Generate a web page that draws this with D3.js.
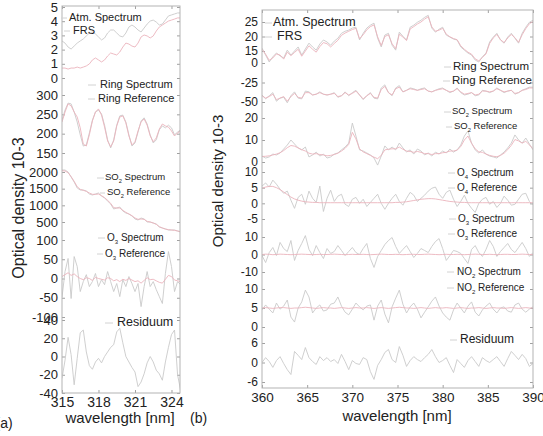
<!DOCTYPE html>
<html>
<head>
<meta charset="utf-8">
<script src="https://cdn.jsdelivr.net/npm/d3@7"></script>
<style>
  body { margin: 0; background: #fff; }
  svg { display: block; font-family: "Liberation Sans", Arial, sans-serif; }
  .frame { fill: none; stroke: #b3b3b3; stroke-width: 1; }
  .spec { fill: none; stroke: #c9c9c9; stroke-width: 0.9; }
  .ref { fill: none; stroke: #ebb3bc; stroke-width: 0.9; }
  .leg-line { stroke: #d2d2d2; stroke-width: 1; }
</style>
</head>
<body>
<svg id="chart" width="543" height="436"></svg>
<script>
// ── DATA: panel (a), 315 nm onwards every 0.25 nm ─────────────────────────
const wlStartA = 315, wlStepA = 0.25;
const atmA = [2.61,2.46,2.18,2.04,2.25,2.46,2.61,2.75,2.96,3.17,3.24,3.10,2.89,2.68,2.82,3.17,3.38,3.38,3.17,2.96,2.89,3.17,3.59,3.73,3.59,3.38,3.24,3.52,3.80,4.01,4.08,3.94,3.73,3.80,4.08,4.37,4.44,4.51,4.58,4.58];
const frsA = [0.70,0.70,0.63,0.70,0.70,0.77,0.70,0.77,0.85,0.99,1.27,1.41,1.27,1.13,1.27,1.55,1.76,1.69,1.62,1.83,2.18,2.46,2.39,2.25,2.18,2.46,2.89,3.03,2.96,2.82,2.96,3.31,3.59,3.73,3.87,4.01,4.08,4.15,4.23,4.23];
const ringSpecA = [235,261,279,277,256,230,197,168,171,202,235,256,261,251,222,184,163,184,222,246,248,230,197,168,176,204,233,241,225,197,176,184,210,220,215,222,215,197,204,210];
const ringRefA = [230,256,277,272,256,243,215,173,168,197,233,256,264,248,217,181,166,181,220,243,246,228,194,171,179,207,230,238,222,194,179,189,212,225,220,217,207,194,202,207];
const so2SpecA = [2060,2060,2000,1850,1700,1520,1460,1460,1430,1340,1310,1340,1370,1280,1220,1130,1040,890,920,950,830,770,740,680,590,560,620,590,500,500,470,440,350,320,290,260,260,260,230,200];
const so2RefA = [2040,2030,1980,1860,1720,1560,1480,1450,1420,1370,1330,1330,1340,1290,1230,1150,1060,930,920,920,850,790,740,690,620,580,590,580,520,500,470,430,360,320,290,270,260,250,230,210];
const o3SpecA = [-49,18,52,-52,57,31,-34,-8,10,-21,-8,13,-21,-3,-16,18,-8,-34,-13,-47,-3,-21,5,-13,-34,-13,-73,-21,18,-21,-8,-29,-47,-65,13,70,31,-34,-8,-16];
const o3RefA = [5,10,15,8,12,5,0,-3,2,0,-5,3,0,-2,-4,2,0,-6,-3,-8,-2,-5,0,-4,-8,-6,-12,-5,2,-3,-2,-6,-10,-12,-2,8,5,-4,-6,-8];
const residA = [-24,-4,21,2,-31,-2,26,29,5,-10,-14,-6,-2,-7,0,5,10,13,27,31,15,0,-6,-12,-17,-33,-28,-19,-7,0,-6,-15,-19,-26,-6,10,24,29,-20,-37];

// ── DATA: panel (b), 360 nm onwards every 0.4 nm ──────────────────────────
const wlStartB = 360, wlStepB = 0.4;
const atmB = [16.0,13.6,11.2,13.0,14.3,13.3,12.6,15.3,13.6,15.0,16.4,13.6,15.7,17.7,16.4,15.3,17.4,18.8,18.1,17.0,18.4,19.4,21.1,21.8,22.2,22.9,23.2,18.8,21.1,22.9,23.9,24.6,19.4,16.4,20.5,21.1,17.0,15.3,21.5,20.1,18.8,23.2,23.9,24.9,25.6,26.6,27.3,22.9,21.5,22.5,23.2,20.5,19.8,19.1,18.8,16.4,15.3,14.3,13.6,11.9,11.2,13.0,14.3,18.1,19.8,21.1,18.8,17.7,19.8,21.1,19.4,17.7,21.1,23.2,24.9,25.6];
const frsB = [15.6,13.9,11.8,12.6,14.0,13.6,12.2,14.6,13.4,14.5,15.6,13.2,15.0,16.8,15.6,14.6,16.5,17.9,17.5,16.4,17.6,18.7,20.4,21.2,21.8,22.4,22.8,19.2,20.6,22.3,23.4,24.0,19.9,16.9,20.0,20.6,17.5,15.8,20.8,19.8,18.6,22.6,23.4,24.3,25.0,26.0,26.8,23.3,21.8,22.2,22.8,20.8,19.9,19.3,18.9,16.8,15.6,14.6,13.9,12.3,11.6,12.8,14.0,17.6,19.5,20.7,18.9,17.9,19.5,20.7,19.6,18.0,20.6,22.7,24.4,25.2];
const ringSpecB = [-41,-46,-42,-38,-49,-45,-44,-51,-42,-37,-45,-46,-36,-37,-41,-40,-37,-40,-41,-40,-38,-44,-42,-37,-42,-38,-35,-41,-47,-42,-38,-45,-46,-32,-28,-38,-42,-32,-29,-37,-35,-32,-33,-35,-33,-32,-36,-37,-35,-33,-32,-35,-38,-36,-32,-38,-41,-40,-38,-42,-41,-35,-36,-38,-36,-32,-35,-38,-36,-35,-40,-38,-35,-33,-31,-31];
const ringRefB = [-42,-45,-43,-40,-47,-45,-43,-49,-43,-39,-44,-45,-38,-38,-41,-40,-38,-40,-41,-40,-39,-43,-42,-38,-41,-39,-36,-41,-46,-42,-39,-44,-45,-34,-30,-38,-41,-33,-31,-37,-35,-33,-34,-35,-34,-33,-36,-37,-35,-34,-33,-35,-37,-36,-33,-37,-40,-39,-38,-41,-40,-36,-36,-37,-36,-33,-35,-37,-36,-35,-39,-38,-35,-34,-32,-32];
const so2SpecB = [2.7,1.8,2.3,3.6,3.2,4.1,5.9,7.7,10.0,8.2,6.4,5.5,6.8,2.3,3.2,4.5,2.7,3.6,1.8,2.3,3.6,4.1,5.5,6.8,8.6,17.7,11.8,5.5,5.0,4.1,3.2,1.8,-1.4,2.7,7.3,5.5,6.8,5.5,8.6,6.4,4.5,5.5,3.6,5.9,5.0,3.2,4.1,2.7,4.5,3.6,5.0,4.1,5.9,4.5,5.5,7.7,11.8,14.1,8.6,5.5,4.1,5.5,3.6,2.7,2.3,1.8,3.2,4.5,6.4,8.6,12.3,10.0,8.6,10.9,8.2,5.5];
const so2RefB = [2.5,2.6,2.8,3.2,3.6,4.2,5.2,6.5,7.5,7.2,6.4,5.6,5.0,4.0,3.6,3.8,3.4,3.2,2.8,3.0,3.4,4.0,5.0,6.2,8.0,13.5,10.5,6.0,4.6,3.8,3.0,2.2,1.5,3.0,5.5,5.8,6.0,6.0,6.8,5.8,5.0,4.8,4.4,4.8,4.4,3.8,3.8,3.4,3.8,3.8,4.2,4.4,5.0,5.0,5.4,7.0,10.0,11.8,8.5,6.0,4.6,4.4,3.6,3.0,2.6,2.4,3.0,4.0,5.6,7.6,10.2,9.6,8.6,9.4,7.8,6.0];
const o4SpecB = [5.5,6.5,5.2,7.4,6.1,4.5,3.2,3.9,1.0,-1.6,1.9,2.9,-0.3,3.9,1.6,0.3,5.5,-2.6,1.6,4.2,0.6,2.3,2.9,-0.3,-1.0,1.3,1.9,0,1.3,-1.0,0.3,1.6,2.9,0,-1.9,0,1.6,2.9,0.6,-0.6,1.6,3.5,2.6,0.6,1.6,2.6,3.9,4.8,5.2,2.9,1.6,3.5,4.2,1.3,-1.0,0.6,2.6,0,-1.6,-2.9,0,1.3,1.9,-0.3,0.6,-1.3,0,2.3,1.0,-0.6,-0.3,1.3,2.9,3.2,0.6,-0.6];
const o4RefB = [4.8,5.2,5.4,5.4,5.0,4.4,3.6,2.8,2.0,1.4,1.0,0.7,0.5,0.4,0.3,0.3,0.2,0.2,0.2,0.2,0.2,0.2,0.2,0.2,0.2,0.2,0.2,0.2,0.2,0.2,0.2,0.2,0.2,0.2,0.2,0.2,0.2,0.3,0.3,0.4,0.5,0.7,0.9,1.1,1.3,1.4,1.5,1.5,1.4,1.2,1.0,0.8,0.6,0.5,0.4,0.3,0.3,0.2,0.2,0.2,0.2,0.2,0.2,0.2,0.2,0.2,0.2,0.2,0.2,0.2,0.2,0.2,0.2,0.2,0.2,0.2];
const o3SpecB = [-0.6,-4.6,1.1,4.0,-0.6,6.9,3.4,1.7,8.0,-3.4,2.3,6.3,10.8,2.9,-0.6,5.1,1.1,-2.3,3.4,0.6,1.7,5.1,2.3,-0.6,1.7,4.0,1.1,0,3.4,6.3,-2.3,-7.4,-1.1,2.3,5.7,8.0,9.7,4.6,0.6,2.9,5.1,1.7,-1.7,0.6,3.4,2.3,1.1,4.6,7.4,9.1,3.4,-3.4,-0.6,2.3,1.7,0.6,-2.3,-5.1,2.9,5.1,1.1,-1.1,2.9,8.0,4.6,-1.1,1.7,4.0,6.3,2.9,1.1,4.0,6.9,3.4,-1.1,1.1];
const o3RefB = [0,0.2,0.1,-0.1,0,0.2,0.1,0,-0.1,0,0.1,0.2,0.1,0,-0.1,0,0.1,0,0,0.1,0.2,0.1,0,-0.1,0,0.1,0,0,0.1,0,-0.1,0,0.1,0.2,0.1,0,0,0.1,0,-0.1,0,0.1,0.1,0,0,0.1,0.2,0.1,0,-0.1,0,0.1,0,0,0.1,0,-0.1,0,0.1,0.2,0.1,0,0,0.1,0,-0.1,0,0.1,0.1,0,0,0.1,0.2,0.1,0,0];
const no2SpecB = [4.5,5.8,4.7,3.7,6.3,4.7,5.5,7.1,2.6,1.3,5.0,6.6,9.7,7.9,3.7,5.0,5.8,4.2,4.5,6.0,6.3,7.9,5.5,3.9,3.2,4.7,6.3,5.3,4.5,5.5,5.8,1.8,5.5,7.1,3.4,1.1,5.3,7.6,9.7,6.0,3.7,5.3,6.3,4.7,2.4,3.9,5.3,6.8,7.9,5.5,3.7,2.6,1.8,4.5,6.3,5.0,3.7,5.5,6.6,3.9,2.9,4.5,5.5,6.3,4.7,3.7,5.0,5.3,4.2,3.9,5.8,6.3,4.7,3.9,4.7,5.3];
const no2RefB = [5.0,5.1,5.0,4.9,5.0,5.1,5.1,5.0,4.9,5.0,5.0,5.1,5.2,5.1,5.0,4.9,5.0,5.1,5.0,5.0,4.9,5.0,5.1,5.0,4.9,5.0,5.1,5.0,5.0,5.1,5.0,4.9,5.0,5.1,5.0,4.9,5.0,5.1,5.2,5.1,5.0,5.0,4.9,5.0,5.1,5.0,4.9,5.0,5.1,5.0,5.0,5.1,5.0,4.9,5.0,5.1,5.0,4.9,5.0,5.0,5.1,5.0,4.9,5.0,5.1,5.0,5.0,4.9,5.0,5.1,5.0,4.9,5.0,5.1,5.0,5.0];
const residB = [0,1.5,0.3,-1.5,0.6,1.8,-0.3,-2.2,-3.7,3.4,2.2,0.9,4.6,1.5,0.3,-0.6,1.8,0.6,1.5,0.3,0.9,-0.3,2.5,0.3,-2.2,0.6,-0.3,-0.6,1.5,0.9,-2.8,-5.2,-0.9,0.9,3.1,4.0,0.9,0,4.9,2.2,-1.2,0.6,1.8,0.9,0.3,1.5,2.5,4.0,1.8,0,0.6,1.5,-0.9,-3.1,0.9,-0.3,-1.5,0.6,1.8,0.3,-1.2,1.5,0.6,0,0.9,1.8,0.3,-1.2,1.2,3.4,2.2,0.9,2.5,1.2,-1.2,-0.3];

// ── TICKS ──────────────────────────────────────────────────────────────────
const xTicksA = [315, 318, 321, 324];
const xTicksB = [360, 365, 370, 375, 380, 385, 390];
const yTicksA = [[0,1,2,3,4,5], [150,200,250,300], [500,1000,1500,2000], [-100,-50,0,50,100], [-40,-20,0,20,40]];
const yTicksB = [[15,20,25], [-50,-25,0], [0,10,20], [-5,0,5,10], [-10,0,10], [0,5,10], [-6,0,6]];

// ── LAYOUT ─────────────────────────────────────────────────────────────────
const panelA = {
  name: 'a', left: 62, right: 180, top: 6, bottom: 393,
  x0: wlStartA, x1: 324.7, step: wlStepA, xTicks: xTicksA,
  yFont: 13, xFont: 14, xPad: 4,
  bands: [
    { ticks: yTicksA[0], range: [78, 7],    series: [[atmA, 'spec'], [frsA, 'ref']] },
    { ticks: yTicksA[1], range: [153, 95],  series: [[ringSpecA, 'spec'], [ringRefA, 'ref']] },
    { ticks: yTicksA[2], range: [222, 172], series: [[so2SpecA, 'spec'], [so2RefA, 'ref']] },
    { ticks: yTicksA[3], range: [317, 240], series: [[o3SpecA, 'spec'], [o3RefA, 'ref']] },
    { ticks: yTicksA[4], range: [393, 320], series: [[residA, 'spec']] },
  ],
  legend: [
    { parts: ['Atm. Spectrum'], x: 69, y: 17, fs: 11, lx: [61, 67] },
    { parts: ['FRS'], x: 73, y: 30, fs: 11, lx: [64, 70] },
    { parts: ['Ring Spectrum'], x: 100, y: 84, fs: 11, lx: [88, 96] },
    { parts: ['Ring Reference'], x: 98, y: 98, fs: 11, lx: [88, 95] },
    { parts: ['SO', '2', ' Spectrum'], x: 105, y: 177, fs: 9.5, lx: [97, 104] },
    { parts: ['SO', '2', ' Reference'], x: 107, y: 192, fs: 9.5, lx: [100, 105] },
    { parts: ['O', '3', ' Spectrum'], x: 107, y: 237, fs: 10, lx: [98, 105] },
    { parts: ['O', '3', ' Reference'], x: 105, y: 253, fs: 10, lx: [97, 103] },
    { parts: ['Residuum'], x: 117, y: 322, fs: 12.5, lx: [105, 113] },
  ],
  yTitle: { x: 18, y: 208, fs: 16 },
  xTitle: { x: 120, y: 418 },
  tag: { text: '(a)', x: -4.5, y: 423 },
};

const panelB = {
  name: 'b', left: 262, right: 533, top: 10, bottom: 388,
  x0: wlStartB, x1: 390, step: wlStepB, xTicks: xTicksB,
  yFont: 12, xFont: 13.5, xPad: 4,
  bands: [
    { ticks: yTicksB[0], range: [51, 22],   series: [[atmB, 'spec'], [frsB, 'ref']] },
    { ticks: yTicksB[1], range: [102, 63],  series: [[ringSpecB, 'spec'], [ringRefB, 'ref']] },
    { ticks: yTicksB[2], range: [162, 118], series: [[so2SpecB, 'spec'], [so2RefB, 'ref']] },
    { ticks: yTicksB[3], range: [219, 172], series: [[o4SpecB, 'spec'], [o4RefB, 'ref']] },
    { ticks: yTicksB[4], range: [272, 237], series: [[o3SpecB, 'spec'], [o3RefB, 'ref']] },
    { ticks: yTicksB[5], range: [327, 289], series: [[no2SpecB, 'spec'], [no2RefB, 'ref']] },
    { ticks: yTicksB[6], range: [382, 343], series: [[residB, 'spec']] },
  ],
  legend: [
    { parts: ['Atm. Spectrum'], x: 273, y: 22, fs: 12.5, lx: [265, 272] },
    { parts: ['FRS'], x: 277, y: 36, fs: 12.5, lx: [265, 272] },
    { parts: ['Ring Spectrum'], x: 453, y: 66, fs: 11.5, lx: [444, 451] },
    { parts: ['Ring Reference'], x: 452, y: 80, fs: 11.5, lx: [443, 450] },
    { parts: ['SO', '2', ' Spectrum'], x: 452, y: 111, fs: 9.5, lx: [444, 451] },
    { parts: ['SO', '2', ' Reference'], x: 454, y: 126, fs: 9.5, lx: [446, 452] },
    { parts: ['O', '4', ' Spectrum'], x: 457, y: 172, fs: 10, lx: [448, 455] },
    { parts: ['O', '4', ' Reference'], x: 457, y: 187, fs: 10, lx: [448, 455] },
    { parts: ['O', '3', ' Spectrum'], x: 458, y: 218, fs: 10, lx: [449, 456] },
    { parts: ['O', '3', ' Reference'], x: 457, y: 233, fs: 10, lx: [448, 455] },
    { parts: ['NO', '2', ' Spectrum'], x: 457, y: 271, fs: 10, lx: [447, 454] },
    { parts: ['NO', '2', ' Reference'], x: 457, y: 287, fs: 10, lx: [447, 454] },
    { parts: ['Residuum'], x: 460, y: 339, fs: 12, lx: [450, 457] },
  ],
  yTitle: { x: 218, y: 181, fs: 15 },
  xTitle: { x: 397, y: 416 },
  tag: { text: '(b)', x: 190, y: 418 },
};

// ── DRAW ───────────────────────────────────────────────────────────────────
const svg = d3.select('#chart');
const FONT = '"Liberation Sans", Arial, sans-serif';

function styleAxis(ax, size) {
  ax.attr('font-family', FONT);
  ax.select('.domain').remove();
  ax.selectAll('line').attr('stroke', '#a0a0a0');
  ax.selectAll('text').attr('font-size', size).attr('fill', '#222');
}

function drawPanel(p) {
  const g = svg.append('g');
  const x = d3.scaleLinear().domain([p.x0, p.x1]).range([p.left, p.right]);
  const clipId = 'clip-' + p.name;

  svg.append('clipPath').attr('id', clipId).append('rect')
    .attr('x', p.left).attr('y', p.top)
    .attr('width', p.right - p.left).attr('height', p.bottom - p.top);

  p.bands.forEach(b => {
    const y = d3.scaleLinear().domain(d3.extent(b.ticks)).range(b.range);

    const left = g.append('g').attr('transform', `translate(${p.left},0)`)
      .call(d3.axisLeft(y).tickValues(b.ticks).tickSize(-3).tickPadding(4).tickFormat(String));
    styleAxis(left, p.yFont);

    const right = g.append('g').attr('transform', `translate(${p.right},0)`)
      .call(d3.axisRight(y).tickValues(b.ticks).tickSize(-3).tickFormat(''));
    styleAxis(right, p.yFont);

    const line = d3.line()
      .x((d, i) => x(p.x0 + i * p.step))
      .y(d => y(d));

    b.series.forEach(([arr, cls]) => {
      g.append('path').attr('class', cls)
        .attr('clip-path', `url(#${clipId})`)
        .attr('d', line(arr));
    });
  });

  // x axes
  const bottom = g.append('g').attr('transform', `translate(0,${p.bottom})`)
    .call(d3.axisBottom(x).tickValues(p.xTicks).tickSize(-3).tickPadding(p.xPad).tickFormat(String));
  styleAxis(bottom, p.xFont);

  const top = g.append('g').attr('transform', `translate(0,${p.top})`)
    .call(d3.axisTop(x).tickValues(p.xTicks).tickSize(-3).tickFormat(''));
  styleAxis(top, p.xFont);

  // frame
  g.append('rect').attr('class', 'frame')
    .attr('x', p.left).attr('y', p.top)
    .attr('width', p.right - p.left).attr('height', p.bottom - p.top);

  // legend entries
  p.legend.forEach(l => {
    g.append('line').attr('class', 'leg-line')
      .attr('x1', l.lx[0]).attr('x2', l.lx[1]).attr('y1', l.y + 1).attr('y2', l.y + 1);
    const t = g.append('text')
      .attr('x', l.x).attr('y', l.y)
      .attr('dy', '0.35em')
      .attr('font-size', l.fs).attr('fill', '#222');
    t.append('tspan').text(l.parts[0]);
    if (l.parts.length > 1) {
      t.append('tspan').attr('font-size', l.fs * 0.6).attr('dy', l.fs * 0.3).text(l.parts[1]);
      t.append('tspan').attr('dy', -l.fs * 0.3).text(l.parts[2]);
    }
  });

  // titles
  g.append('text')
    .attr('transform', `translate(${p.yTitle.x},${p.yTitle.y}) rotate(-90)`)
    .attr('text-anchor', 'middle').attr('dy', '0.35em')
    .attr('font-size', p.yTitle.fs).attr('fill', '#222')
    .text('Optical density 10-3');

  g.append('text')
    .attr('x', p.xTitle.x).attr('y', p.xTitle.y)
    .attr('text-anchor', 'middle').attr('dy', '0.35em')
    .attr('font-size', 15).attr('fill', '#222')
    .text('wavelength [nm]');

  g.append('text')
    .attr('x', p.tag.x).attr('y', p.tag.y)
    .attr('dy', '0.35em')
    .attr('font-size', 14).attr('fill', '#222')
    .text(p.tag.text);
}

drawPanel(panelA);
drawPanel(panelB);
</script>
</body>
</html>
